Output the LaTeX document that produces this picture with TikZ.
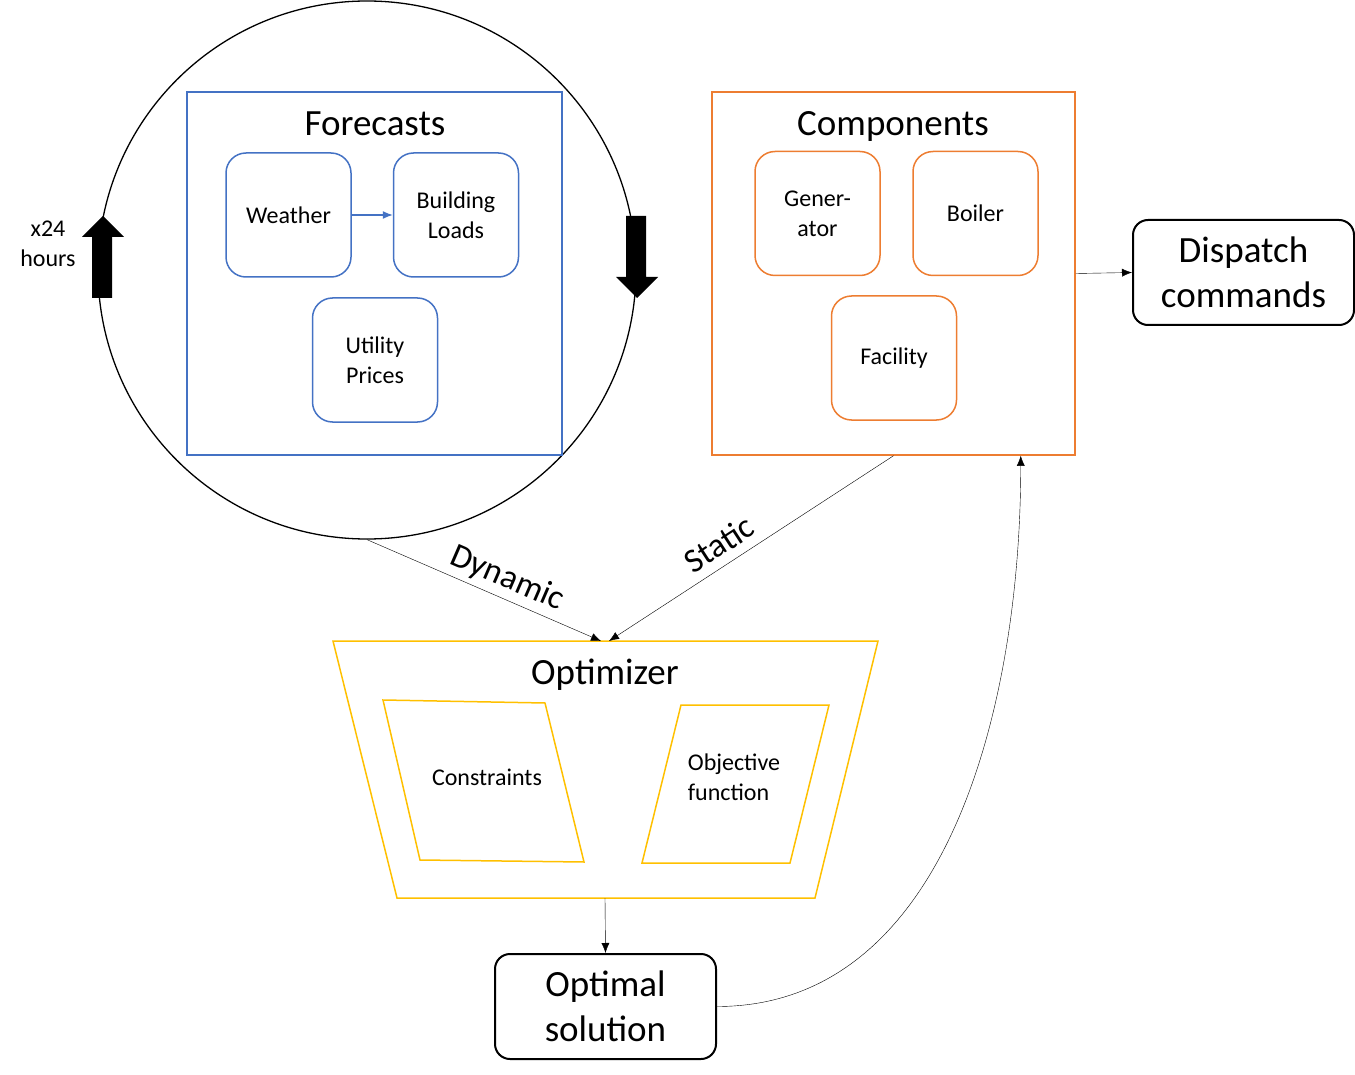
\documentclass[tikz,border=0pt]{standalone}
\usepackage{fontspec}
\setmainfont{Carlito}
\usepackage{tikz}
\usepackage{xcolor}
\usetikzlibrary{arrows.meta}
\usetikzlibrary{calc}
\definecolor{fcblue}{HTML}{4472C4}
\definecolor{cporange}{HTML}{ED7D31}
\definecolor{opyellow}{HTML}{FFC000}
\tikzset{> = {Latex[length=10pt,width=8pt]}}
\tikzset{
	big/.style={font=\fontsize{37}{45}\selectfont},
	mid/.style={font=\fontsize{34}{40}\selectfont},
	small/.style={font=\fontsize{24}{30}\selectfont},
	item/.style={draw, rounded corners=20pt, line width=1.5pt, minimum width=125pt, minimum height=124pt, align=center, small},
	frame/.style={draw, line width=1.5pt, minimum width=#1, minimum height=363pt},
	outbox/.style={draw, rounded corners=15pt, line width=2pt, minimum width=221pt, minimum height=105pt, align=center, big},
	opline/.style={draw=opyellow, line width=1.5pt, line join=miter}
}
\begin{document}
\begin{tikzpicture}[x=1pt, y=-1pt]
		\useasboundingbox (0,0) rectangle (1355,1075);
		% forecast loop
		\node[circle, draw, line width=1.3pt, minimum size=538pt] (loop) at (367,270) {};
		\node[frame=375pt, draw=fcblue] (fcst) at (374.5,273.5) {};
		\node[big] (fcsttitle) at (375,124) {Forecasts};
		\node[item, draw=fcblue] (weather) at (288.5,215) {Weather};
		\node[item, draw=fcblue] (loads) at (456,215) {Building\\Loads};
		\node[item, draw=fcblue] (prices) at (375,360) {Utility\\Prices};
		\draw[->, fcblue, line width=1.2pt] (weather) -- (loads);
		\fill (92,298)--++(0,-61)--++(-10,0)--++(21,-21)--++(21,21)--++(-12,0)--++(0,61)--cycle;
		\fill (626,216)--++(0,61)--++(-10,0)--++(21,21)--++(21,-21)--++(-12,0)--++(0,-61)--cycle;
		\node[small, align=center] (reps) at (48,244) {x24\\hours};
		% components
		\node[frame=363pt, draw=cporange] (comp) at (893.5,273.5) {};
		\node[big] (comptitle) at (893,126) {Components};
		\node[item, draw=cporange] (gen) at (817.5,213.5) {Gener-\\ator};
		\node[item, draw=cporange] (boiler) at (975.5,213.5) {Boiler};
		\node[item, draw=cporange] (facility) at (894,358) {Facility};
		\node[outbox] (disp) at (1243.5,272.5) {Dispatch\\commands};
		\draw[->] (comp.east) -- (disp.west);
		% optimizer
		\coordinate (opttop) at (605,641);
		\coordinate (optbottom) at (605,898);
		\draw[opline] (333,641)--(878,641)--(815,898)--(397,898)--cycle;
		\node[big] (opttitle) at (605,675) {Optimizer};
		\draw[opline] (383,700)--(545,703)--(584,862)--(420,860)--cycle;
		\node[small] (cons) at (487,777) {Constraints};
		\draw[opline] (681,705)--(829,705)--(790,863)--(642,863)--cycle;
		\node[small, align=left] (obj) at (734,777) {Objective\\function};
		\draw[->] (loop.south) -- node[pos=0.565, above=2pt, sloped, mid] {Dynamic} ($(opttop)+(-4,0)$);
		\draw[->] (comp.south) -- node[pos=0.573, above=6pt, sloped, mid] {Static} ($(opttop)+(4,0)$);
		\node[outbox] (sol) at (605.5,1006.5) {Optimal\\solution};
		\draw[->] (optbottom) -- (sol.north);
		\draw[->] (sol.east) .. controls ($(sol.east)+(230,0)$) and ($(comp.south east)+(-55,250)$) .. ($(comp.south east)+(-55,0)$);
\end{tikzpicture}
\end{document}
